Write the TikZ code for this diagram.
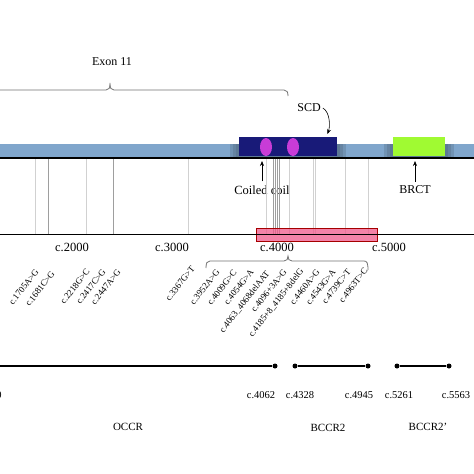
\documentclass[tikz,border=0pt]{standalone}
\usepackage{fontspec}
\setmainfont{Liberation Serif}
\usetikzlibrary{arrows.meta}
\definecolor{barblue}{RGB}{128,166,204}
\definecolor{scdblue}{RGB}{24,26,120}
\definecolor{coilpink}{RGB}{200,60,215}
\definecolor{brctgreen}{RGB}{160,250,50}
\definecolor{hotpink}{RGB}{240,90,140}
\begin{document}
\begin{tikzpicture}[x=1pt,y=-1pt,
  lbl/.style={font=\fontsize{12}{12}\selectfont, inner sep=0pt},
  ticklbl/.style={font=\fontsize{12.5}{12.5}\selectfont, inner sep=0pt},
  mut/.style={font=\fontsize{9}{9}\selectfont, rotate=52, anchor=east, inner sep=0pt},
  posl/.style={font=\fontsize{10.5}{10.5}\selectfont, inner sep=0pt},
  region/.style={font=\fontsize{11}{11}\selectfont, inner sep=0pt},
  snp/.style={draw=black!18, line width=0.5pt},
  snpd/.style={draw=black!38, line width=0.6pt},
  dot/.style={circle, fill=black, inner sep=0pt, minimum size=5pt},
  seg/.style={line width=1.2pt},
  ptr/.style={-{Stealth[length=5pt,width=4pt]}, line width=0.6pt},
  brace/.style={draw=black!55, line width=0.8pt},
  dombox/.style={inner sep=0pt, anchor=north west},
  halo/.style={fill=barblue!55!black, opacity=0.25}
]
\useasboundingbox (0,0) rectangle (474,474);
\fill[white] (0,0) rectangle (474,474);

% Exon 11 brace
\node[lbl] (exon) at (112,62) {Exon 11};
\draw[brace] (-5,90) -- (106,90) .. controls (109,90) and (110,88) .. (110,83)
  .. controls (110,88) and (111,90) .. (114,90) -- (284,90)
  .. controls (287,90) and (288,92) .. (288,96);

% protein bar
\fill[barblue] (0,144) rectangle (474,157);
\foreach \d in {3,6,9} {
  \fill[halo] (239-\d,144) rectangle (337+\d,157);
  \fill[halo] (393-\d,144) rectangle (445+\d,157);
}
\node[dombox, fill=scdblue, minimum width=98pt, minimum height=19pt] (scdbox) at (239,137) {};
\node[dombox, fill=brctgreen, minimum width=52pt, minimum height=19pt] (brctbox) at (393,137) {};
\fill[coilpink] (266,147) ellipse [x radius=6, y radius=9];
\fill[coilpink] (293,147) ellipse [x radius=6, y radius=9];
\coordinate (barbot) at (0,161);
\draw[line width=1.5pt] (0,158) -- (474,158);

% labels and pointers
\node[lbl] (scd) at (309,108) {SCD};
\draw[ptr] ([xshift=2pt]scd.east) .. controls +(7,4) and +(3,-8) .. ([xshift=-10pt,yshift=3pt]scdbox.north east);
\node[lbl, font=\fontsize{12.5}{12.5}\selectfont] (coil) at (262,190) {Coiled coil};
\draw[ptr] ([yshift=4pt]coil.north) -- (coil.north |- barbot);
\node[lbl] (brct) at (415,190) {BRCT};
\draw[ptr] ([yshift=4pt]brct.north) -- (brct.north |- barbot);

% variant positions
\foreach \x in {35,86,188,266,289,313,315,345,368}
  \draw[snp] (\x,159) -- (\x,234);
\foreach \x in {48,113,273,275,277,279}
  \draw[snpd] (\x,159) -- (\x,234);

% scale
\node[dombox, fill=hotpink, fill opacity=0.75, draw=red!65!black, line width=0.6pt, minimum width=121pt, minimum height=13pt] (pink) at (256,228) {};
\draw[line width=0.9pt] (0,234) -- (474,234);
\node[ticklbl] (t2) at (72,247) {c.2000};
\node[ticklbl] (t3) at (172,247) {c.3000};
\node[ticklbl] (t4) at (277,247) {c.4000};
\node[ticklbl] (t5) at (389,247) {c.5000};

% lower brace
\draw[brace] (206,268) .. controls (206,263) and (207,261) .. (210,261) -- (284,261)
  .. controls (287,261) and (288,259) .. (288,256)
  .. controls (288,259) and (289,261) .. (292,261) -- (364,261)
  .. controls (367,261) and (368,263) .. (368,270);

% mutation labels
\node[mut] (m1) at (37,270) {c.1705A>G};
\node[mut] (m2) at (53,272) {c.1681C>G};
\node[mut] (m3) at (88,270) {c.2218G>C};
\node[mut] (m4) at (104,270) {c.2417C>G};
\node[mut] (m5) at (119,270) {c.2447A>G};
\node[mut] (m6) at (193,267) {c.3367G>T};
\node[mut] (m7) at (218,270) {c.3952A>G};
\node[mut] (m8) at (235,271) {c.4009G>C};
\node[mut] (m9) at (252,270) {c.4054G>A};
\node[mut] (m10) at (268,272) {c.4063\_4068delAAT};
\node[mut] (m11) at (285,270) {c.4096+3A>G};
\node[mut] (m12) at (302,270) {c.4185+8\_4185+8delG};
\node[mut] (m13) at (318,270) {c.4460A>G};
\node[mut] (m14) at (334,270) {c.4543G>A};
\node[mut] (m15) at (349,270) {c.4739C>T};
\node[mut] (m16) at (366,269) {c.4963T>C};

% regions
\coordinate (d0) at (-5,366);
\node[dot] (d1) at (275,366) {};
\node[dot] (d2) at (295,366) {};
\node[dot] (d3) at (368,366) {};
\node[dot] (d4) at (397,366) {};
\node[dot] (d5) at (449,366) {};
\draw[seg] (d0) -- (d1);
\draw[seg] (d2) -- (d3);
\draw[seg] (d4) -- (d5);
\node[posl] (p0) at (-1,395) {0};
\node[posl] (p1) at (261,395) {c.4062};
\node[posl] (p2) at (300,395) {c.4328};
\node[posl] (p3) at (359,395) {c.4945};
\node[posl] (p4) at (399,395) {c.5261};
\node[posl] (p5) at (456,395) {c.5563};
\node[region] (occr) at (128,427) {OCCR};
\node[region] (bccr) at (328,428) {BCCR2};
\node[region] (bccrp) at (428,427) {BCCR2’};
\end{tikzpicture}
\end{document}
